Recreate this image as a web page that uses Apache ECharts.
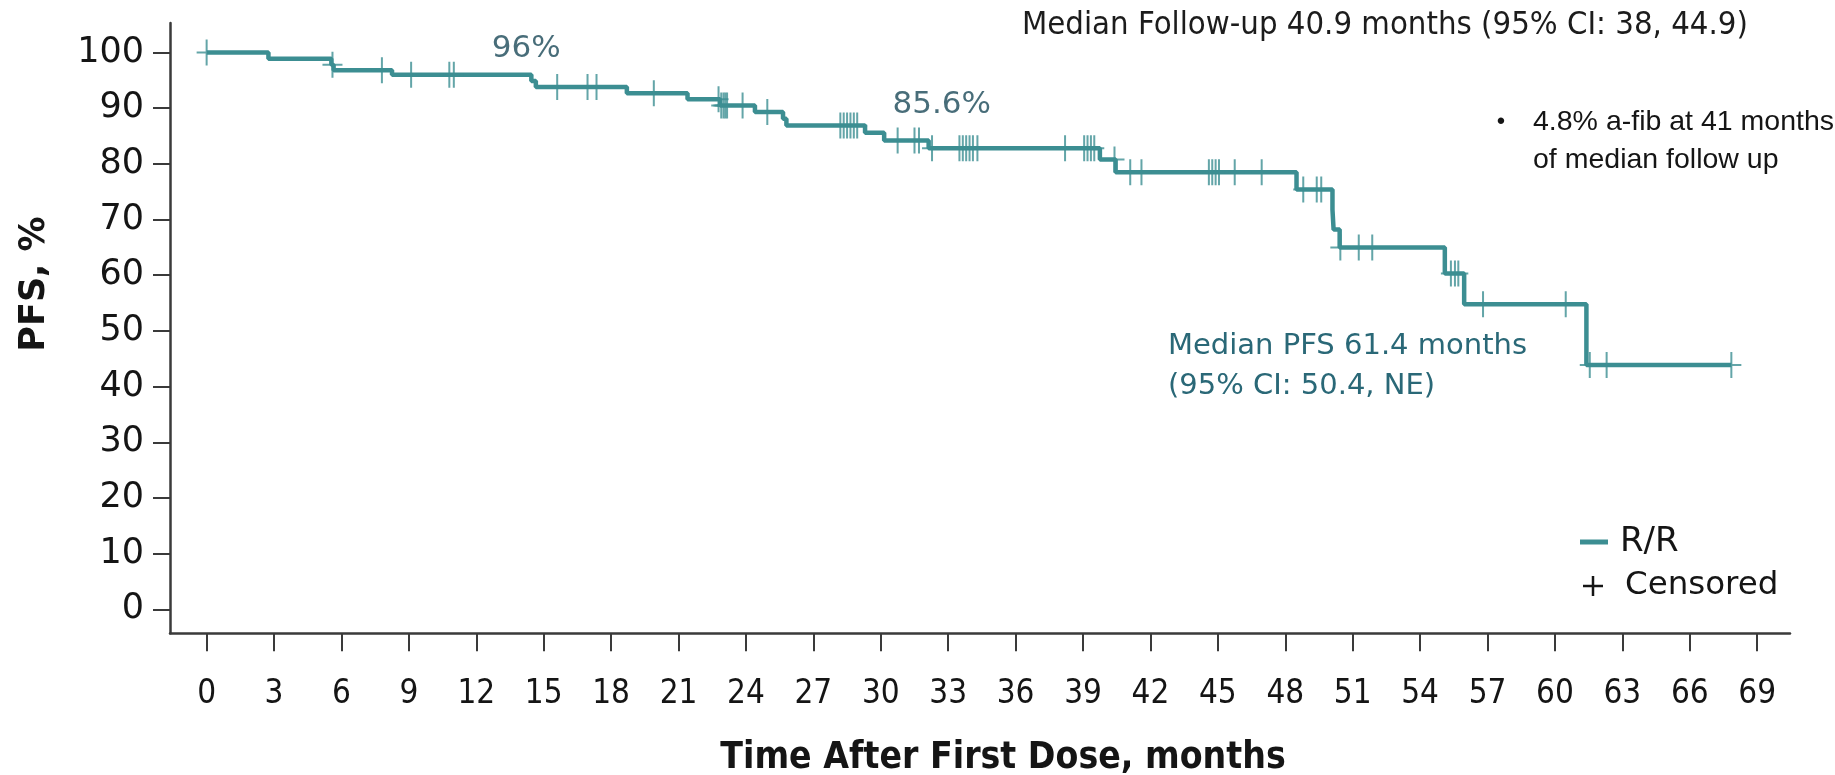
<!DOCTYPE html>
<html>
<head>
<meta charset="utf-8">
<title>PFS – R/R</title>
<script src="https://cdn.jsdelivr.net/npm/echarts@6/dist/echarts.min.js"></script>
<style>
  html, body { margin: 0; padding: 0; background: #ffffff; }
  #chart { width: 1835px; height: 775px; }
</style>
</head>
<body>
<div id="chart"></div>
<script>
// Kaplan–Meier progression-free survival, R/R cohort.
// Each event time is paired with the survival estimate that starts at that time.
const eventMonths = [0, 2.75, 5.55, 5.65, 8.25, 14.45, 14.65, 18.7, 21.4, 22.85, 24.4, 25.65, 25.8,
  29.3, 30.15, 32.13, 39.75, 40.45, 48.5, 50.1, 50.15, 50.42, 55.1, 55.96, 61.4, 67.85];
const survivalPct = [100, 98.9, 97.8, 96.8, 96.0, 94.9, 93.8, 92.7, 91.6, 90.5, 89.3, 88.1, 86.9,
  85.6, 84.2, 82.8, 80.8, 78.5, 75.4, 71.8, 68.2, 65.0, 60.3, 54.8, 43.9, 43.9];

// Censoring times (months)
const censorMonths = [0, 5.6, 7.8, 9.1, 10.8, 11.0, 15.6, 16.95, 17.35, 19.9,
  22.78, 22.9, 23.0, 23.08, 23.16, 23.85, 24.95,
  28.2, 28.35, 28.5, 28.65, 28.8, 28.95, 30.75, 31.5, 31.7, 32.28,
  33.5, 33.65, 33.8, 33.95, 34.1, 34.3, 38.2, 39.05, 39.2, 39.35, 39.5, 40.4,
  41.1, 41.6, 44.6, 44.75, 44.9, 45.05, 45.75, 46.95, 48.8, 49.4, 49.6,
  50.45, 51.27, 51.87, 55.37, 55.55, 55.7, 56.8, 60.48, 61.55, 62.3, 67.85];

// Landmark estimates shown on the curve
const milestoneMonths = [12, 30];
const milestonePct = [96, 85.6];

const xTicks = [0, 3, 6, 9, 12, 15, 18, 21, 24, 27, 30, 33, 36, 39, 42, 45, 48, 51, 54, 57, 60, 63, 66, 69];
const yTicks = [0, 10, 20, 30, 40, 50, 60, 70, 80, 90, 100];

const seriesName = 'R/R';
const censorName = 'Censored';
const followUpNote = 'Median Follow-up 40.9 months (95% CI: 38, 44.9)';
const bulletLines = ['4.8% a-fib at 41 months', 'of median follow up'];
const medianLines = ['Median PFS 61.4 months', '(95% CI: 50.4, NE)'];
const xTitle = 'Time After First Dose, months';
const yTitle = 'PFS, %';

// Survival estimate in effect at time t (right-continuous step function)
function survivalAt(t) {
  let s = survivalPct[0];
  for (let i = 0; i < eventMonths.length; i++) {
    if (eventMonths[i] <= t) s = survivalPct[i]; else break;
  }
  return s;
}

const TEAL = '#3c8e92';
const AXIS = '#3a3a3a';
const INK = '#151515';
const SANS = '"DejaVu Sans", Verdana, sans-serif';
const NARROW = '"DejaVu Sans Condensed", "Liberation Sans Narrow", "DejaVu Sans", sans-serif';
const ARIAL = '"Liberation Sans", Arial, sans-serif';

const curveData = eventMonths.map((t, i) => [t, survivalPct[i]]);
const censorData = censorMonths.map(t => [t, survivalAt(t)]);
const labelOffsets = [[50, -26], [61, -28]];
const milestoneData = milestoneMonths.map((t, i) => ({
  value: [t, milestonePct[i]],
  label: { offset: labelOffsets[i] }
}));

const chart = echarts.init(document.getElementById('chart'), null, { renderer: 'canvas' });

chart.setOption({
  animation: false,
  backgroundColor: '#ffffff',
  grid: { left: 170, right: 45, top: 23, bottom: 141.7, containLabel: false },
  xAxis: {
    type: 'value',
    min: -1.63,
    max: 70.46,
    axisLine: { show: true, onZero: false, lineStyle: { color: AXIS, width: 2.5 } },
    axisTick: { show: true, customValues: xTicks, length: 18, lineStyle: { color: AXIS, width: 2 } },
    axisLabel: {
      customValues: xTicks, margin: 45, fontSize: 33, fontFamily: NARROW, color: INK
    },
    splitLine: { show: false }
  },
  yAxis: {
    type: 'value',
    min: -4.3,
    max: 105.3,
    axisLine: { show: true, onZero: false, lineStyle: { color: AXIS, width: 2.5 } },
    axisTick: { show: true, customValues: yTicks, length: 17, lineStyle: { color: AXIS, width: 2 } },
    axisLabel: {
      customValues: yTicks, margin: 26, fontSize: 35, fontFamily: SANS, color: INK
    },
    splitLine: { show: false }
  },
  series: [
    {
      name: seriesName,
      type: 'line',
      step: 'end',
      data: curveData,
      showSymbol: false,
      lineStyle: { color: TEAL, width: 4.5 },
      z: 2
    },
    {
      name: censorName,
      type: 'scatter',
      data: censorData,
      symbol: 'path://M9,0h2v26h-2zM0,12h20v2h-20z',
      symbolSize: [20, 26],
      itemStyle: { color: TEAL },
      z: 3
    },
    {
      name: 'landmarks',
      type: 'scatter',
      data: milestoneData,
      symbolSize: 0,
      label: {
        show: true,
        position: 'inside',
        formatter: p => p.value[1] + '%',
        fontSize: 31,
        fontFamily: SANS,
        color: '#1a4857'
      },
      z: 4
    }
  ],
  graphic: [
    {
      type: 'text', x: 1022, y: 26,
      style: { text: followUpNote, font: '32.6px ' + NARROW, fill: '#1c1c1c', textAlign: 'left', verticalAlign: 'middle' }
    },
    {
      type: 'text', x: 1501, y: 122,
      style: { text: '\u2022', font: '24px ' + ARIAL, fill: INK, textAlign: 'center', verticalAlign: 'middle' }
    },
    {
      type: 'text', x: 1533, y: 122,
      style: { text: bulletLines[0], font: '28.5px ' + ARIAL, fill: INK, textAlign: 'left', verticalAlign: 'middle' }
    },
    {
      type: 'text', x: 1533, y: 160,
      style: { text: bulletLines[1], font: '28.5px ' + ARIAL, fill: INK, textAlign: 'left', verticalAlign: 'middle' }
    },
    {
      type: 'text', x: 1168, y: 346,
      style: { text: medianLines[0], font: '29px ' + SANS, fill: '#2a6877', textAlign: 'left', verticalAlign: 'middle' }
    },
    {
      type: 'text', x: 1168, y: 386,
      style: { text: medianLines[1], font: '29px ' + SANS, fill: '#2a6877', textAlign: 'left', verticalAlign: 'middle' }
    },
    // legend
    {
      type: 'line', shape: { x1: 1580, y1: 542, x2: 1608, y2: 542 },
      style: { stroke: TEAL, lineWidth: 5 }
    },
    {
      type: 'text', x: 1620, y: 542,
      style: { text: seriesName, font: '34px ' + SANS, fill: INK, textAlign: 'left', verticalAlign: 'middle' }
    },
    {
      type: 'line', shape: { x1: 1583, y1: 586, x2: 1603, y2: 586 },
      style: { stroke: INK, lineWidth: 2.5 }
    },
    {
      type: 'line', shape: { x1: 1593, y1: 576, x2: 1593, y2: 596 },
      style: { stroke: INK, lineWidth: 2.5 }
    },
    {
      type: 'text', x: 1625, y: 586,
      style: { text: censorName, font: '32.5px ' + SANS, fill: INK, textAlign: 'left', verticalAlign: 'middle' }
    },
    // axis titles
    {
      type: 'text', x: 1003, y: 758,
      style: { text: xTitle, font: 'bold 37px ' + NARROW, fill: INK, textAlign: 'center', verticalAlign: 'middle' }
    },
    {
      type: 'text', x: 35, y: 284, rotation: Math.PI / 2,
      style: { text: yTitle, font: 'bold 35px ' + SANS, fill: INK, textAlign: 'center', verticalAlign: 'middle' }
    }
  ]
});
</script>
</body>
</html>
